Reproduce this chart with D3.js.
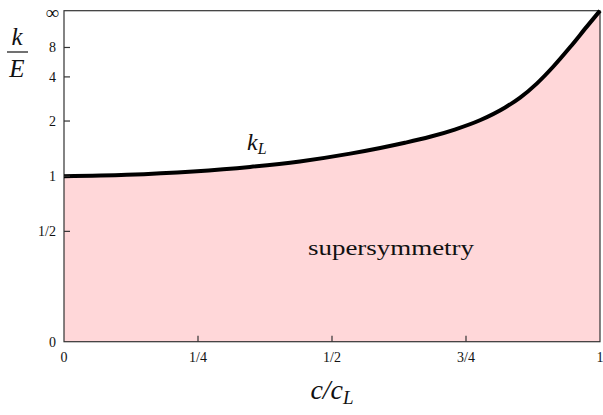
<!DOCTYPE html>
<html><head><meta charset="utf-8">
<script src="https://cdn.jsdelivr.net/npm/d3@7"></script>
<style>body{margin:0;background:#fff}svg{display:block}</style>
</head><body><svg id="c" width="603" height="415"></svg>
<script>
// data
const cRatio = [0, 0.117, 0.241, 0.347, 0.440, 0.534, 0.590, 0.636, 0.683, 0.729, 0.776, 0.823, 0.851, 0.882, 0.913, 0.944, 0.975, 1];
const kL     = [1.00, 1.018, 1.060, 1.119, 1.196, 1.316, 1.411, 1.506, 1.625, 1.785, 2.021, 2.420, 2.809, 3.541, 4.931, 8.04, 19.45, Infinity];
const xTicks = [0, 0.25, 0.5, 0.75, 1];
const xTickLabels = ["0", "1/4", "1/2", "3/4", "1"];
const yTicks = [0, 0.5, 1, 2, 4, 8, Infinity];
const yTickLabels = ["0", "1/2", "1", "2", "4", "8", "\u221E"];

const FONT = "'Liberation Serif', 'Times New Roman', 'Noto Serif', 'DejaVu Serif', FreeSerif, serif";
const svg = d3.select("#c");
const L = 64, R = 600, T = 10.7, B = 341.7;
const x = d3.scaleLinear().domain([0, 1]).range([L, R]);
const yLin = d3.scaleLinear().domain([0, 1]).range([B, T]);
const comp = k => (k === Infinity ? 1 : k / (1 + k));
const y = k => yLin(comp(k));

const pts = cRatio.map((c, i) => [c, kL[i]]);

svg.append("path").datum(pts)
  .attr("d", d3.area().x(d => x(d[0])).y0(B).y1(d => y(d[1])).curve(d3.curveMonotoneX))
  .attr("fill", "#ffd7d9");

// frame
svg.append("rect").attr("x", L).attr("y", T).attr("width", R - L).attr("height", B - T)
  .attr("fill", "none").attr("stroke", "#333").attr("stroke-width", 1.2);

svg.append("path").datum(pts)
  .attr("d", d3.line().x(d => x(d[0])).y(d => y(d[1])).curve(d3.curveMonotoneX))
  .attr("fill", "none").attr("stroke", "#000").attr("stroke-width", 4).attr("stroke-linejoin", "round");

function txt(sel) { return sel.append("text").style("font-family", FONT).attr("fill", "#111"); }

// y ticks
const yAxis = svg.append("g").attr("transform", `translate(${L},0)`);
yTicks.forEach((t, i) => {
  const yy = y(t);
  if (i > 0 && i < yTicks.length - 1)
    yAxis.append("line").attr("x1", 0).attr("x2", 6).attr("y1", yy).attr("y2", yy).attr("stroke", "#333").attr("stroke-width", 1.2);
  const last = i === yTicks.length - 1;
  txt(yAxis).attr("x", last ? -5 : -8).attr("y", last ? yy + 2 : yy).attr("dy", "0.35em")
    .attr("text-anchor", "end").attr("font-size", last ? 19 : 14).text(yTickLabels[i]);
});
// x ticks
const xAxis = svg.append("g").attr("transform", `translate(0,${B})`);
xTicks.forEach((t, i) => {
  const xx = x(t);
  if (i > 0 && i < xTicks.length - 1)
    xAxis.append("line").attr("x1", xx).attr("x2", xx).attr("y1", 0).attr("y2", -6).attr("stroke", "#333").attr("stroke-width", 1.2);
  txt(xAxis).attr("x", xx).attr("y", 20).attr("text-anchor", "middle").attr("font-size", 14).text(xTickLabels[i]);
});

// axis titles
txt(svg).attr("x", 17).attr("y", 45).attr("text-anchor", "middle").attr("font-size", 25).attr("font-style", "italic").text("k");
svg.append("line").attr("x1", 7).attr("x2", 28).attr("y1", 52).attr("y2", 52).attr("stroke", "#111").attr("stroke-width", 1.2);
txt(svg).attr("x", 17).attr("y", 77).attr("text-anchor", "middle").attr("font-size", 25).attr("font-style", "italic").text("E");

const xlab = txt(svg).attr("x", x(0.5)).attr("y", 399).attr("text-anchor", "middle").attr("font-size", 28).attr("font-style", "italic");
xlab.append("tspan").text("c/c");
xlab.append("tspan").attr("font-size", 19).attr("dy", 5).text("L");

const kl = txt(svg).attr("x", 247).attr("y", 150).attr("font-size", 24).attr("font-style", "italic");
kl.append("tspan").text("k");
kl.append("tspan").attr("font-size", 16).attr("dy", 4).text("L");

txt(svg).attr("x", 308).attr("y", 255).attr("font-size", 22)
  .attr("textLength", 166).attr("lengthAdjust", "spacingAndGlyphs").text("supersymmetry");
</script></body></html>
